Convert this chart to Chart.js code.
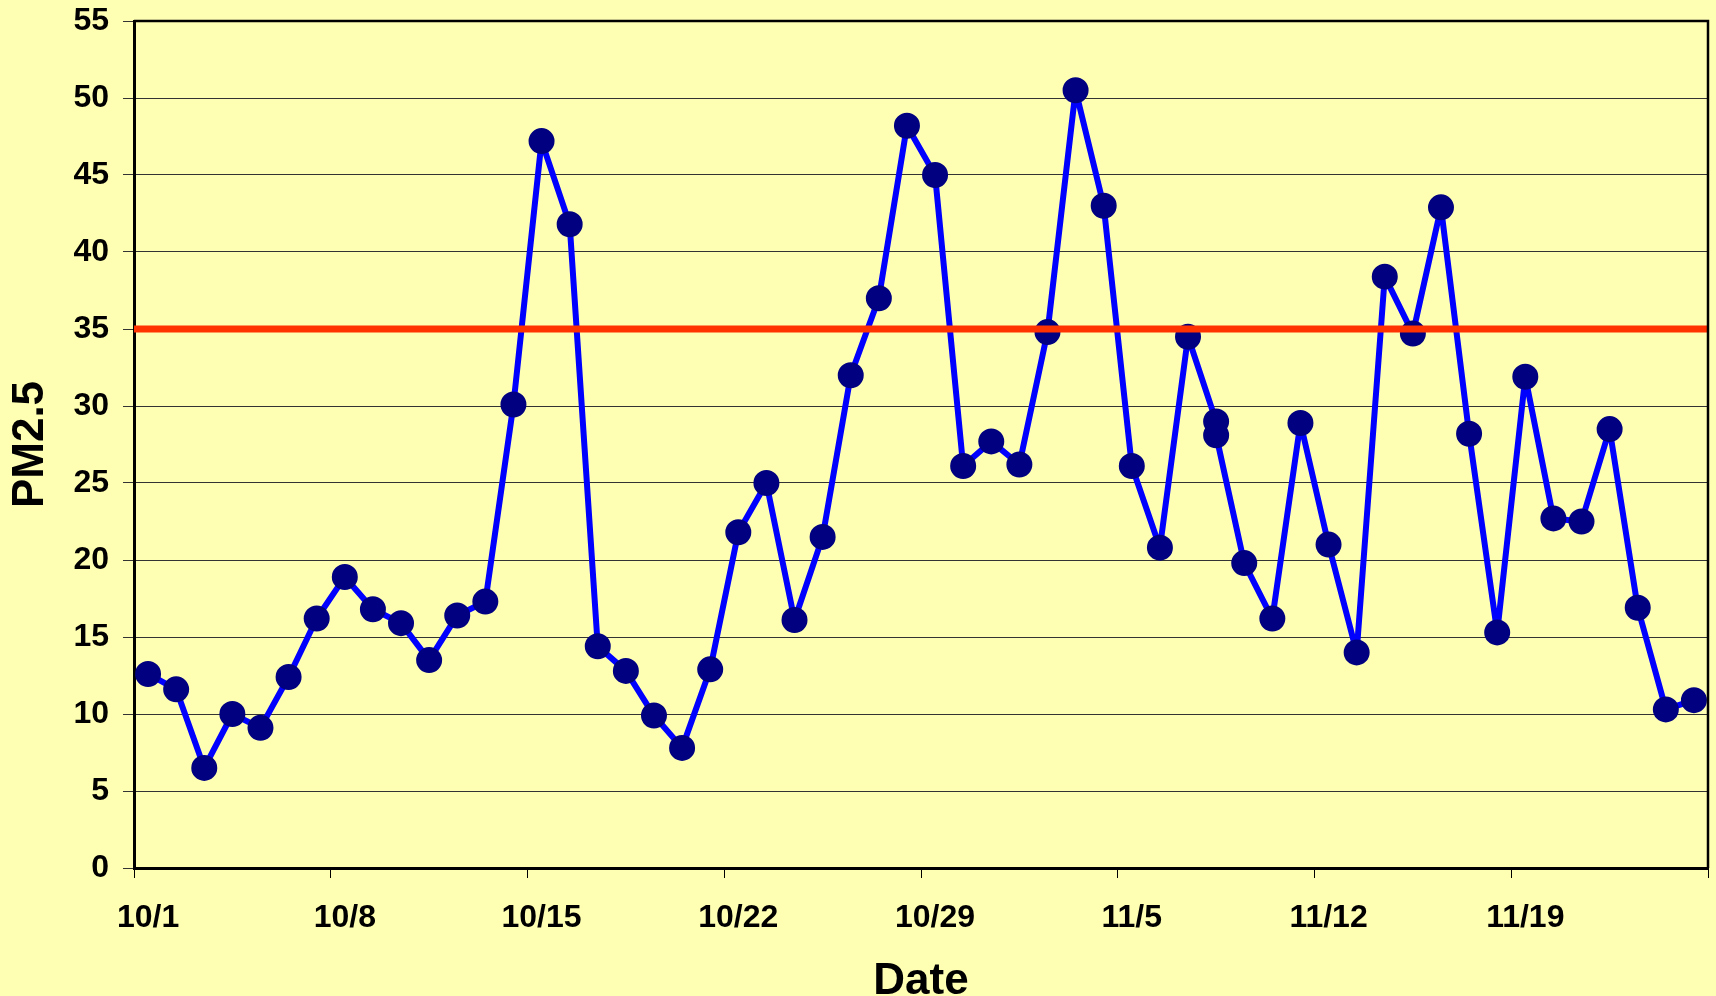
<!DOCTYPE html>
<html>
<head>
<meta charset="utf-8">
<script src="https://cdn.jsdelivr.net/npm/chart.js@4.4.1/dist/chart.umd.min.js"></script>
<style>
  html, body { margin: 0; padding: 0; background: #FFFFB4; overflow: hidden; }
  canvas { display: block; }
</style>
</head>
<body>
<canvas id="c" width="1716" height="996"></canvas>
<script>
// Category axis: one slot per day
const days = [
  '10/1','10/2','10/3','10/4','10/5','10/6','10/7','10/8','10/9','10/10',
  '10/11','10/12','10/13','10/14','10/15','10/16','10/17','10/18','10/19','10/20',
  '10/21','10/22','10/23','10/24','10/25','10/26','10/27','10/28','10/29','10/30',
  '10/31','11/1','11/2','11/3','11/4','11/5','11/6','11/7','11/8','11/9',
  '11/10','11/11','11/12','11/13','11/14','11/15','11/16','11/17','11/18','11/19',
  '11/20','11/21','11/22','11/23','11/24','11/25'
];

// Sample dates (11/8 has two samples)
const sampleDates = [
  '10/1','10/2','10/3','10/4','10/5','10/6','10/7','10/8','10/9','10/10',
  '10/11','10/12','10/13','10/14','10/15','10/16','10/17','10/18','10/19','10/20',
  '10/21','10/22','10/23','10/24','10/25','10/26','10/27','10/28','10/29','10/30',
  '10/31','11/1','11/2','11/3','11/4','11/5','11/6','11/7','11/8','11/8',
  '11/9','11/10','11/11','11/12','11/13','11/14','11/15','11/16','11/17','11/18',
  '11/19','11/20','11/21','11/22','11/23','11/24','11/25'
];

const pm25 = [
  12.6, 11.6, 6.5, 10.0, 9.1, 12.4, 16.2, 18.9, 16.8, 15.9,
  13.5, 16.4, 17.3, 30.1, 47.2, 41.8, 14.4, 12.8, 9.9, 7.8,
  12.9, 21.8, 25.0, 16.1, 21.5, 32.0, 37.0, 48.2, 45.0, 26.1,
  27.7, 26.2, 34.8, 50.5, 43.0, 26.1, 20.8, 34.5, 29.0, 28.1,
  19.8, 16.2, 28.9, 21.0, 14.0, 38.4, 34.7, 42.9, 28.2, 15.3,
  31.9, 22.7, 22.5, 28.5, 16.9, 10.3, 10.9
];

const LIMIT = 35;          // standard line
const LIMIT_SPAN = [0, 1]; // spans full width on hidden axis
const TICK_EVERY = 7;      // label / tick every week
const Y_MIN = 0, Y_MAX = 55, Y_STEP = 5;

const FONT = '"Liberation Sans", Arial, sans-serif';

const seriesData = sampleDates.map((d, i) => ({ x: d, y: pm25[i] }));
const limitData = LIMIT_SPAN.map(v => ({ x: v, y: LIMIT }));

const frame = {
  id: 'frame',
  afterDatasetsDraw(chart) {
    const { ctx, chartArea: a } = chart;
    ctx.save();
    ctx.strokeStyle = '#000';
    ctx.lineWidth = 2.5;
    ctx.beginPath();
    ctx.moveTo(a.left, a.top);
    ctx.lineTo(a.right, a.top);
    ctx.lineTo(a.right, a.bottom);
    ctx.stroke();
    ctx.restore();
  }
};

const noPad = s => { s.paddingLeft = 0; s.paddingRight = 0; s.paddingTop = 0; s.paddingBottom = 0; };

new Chart(document.getElementById('c'), {
  type: 'line',
  data: {
    datasets: [
      {
        label: 'Standard',
        data: limitData,
        xAxisID: 'x2',
        borderColor: '#FF3300',
        borderWidth: 7,
        pointRadius: 0,
        order: 0
      },
      {
        label: 'PM2.5',
        data: seriesData,
        xAxisID: 'x',
        borderColor: '#0000FF',
        borderWidth: 6,
        borderJoinStyle: 'round',
        pointRadius: 12,
        pointBorderWidth: 2,
        pointBackgroundColor: '#000080',
        pointBorderColor: '#000080',
        tension: 0,
        order: 1
      }
    ]
  },
  options: {
    responsive: false,
    animation: false,
    devicePixelRatio: 1,
    layout: { autoPadding: false, padding: { top: 21, right: 8, left: 0, bottom: 0 } },
    plugins: { legend: { display: false }, tooltip: { enabled: false } },
    scales: {
      x: {
        type: 'category',
        labels: days,
        offset: true,
        afterFit(s) { s.height = 128; noPad(s); },
        grid: {
          offset: true,
          drawOnChartArea: false,
          drawTicks: true,
          tickLength: 10,
          lineWidth: 1,
          color: ctx => (ctx.type !== 'tick' || ctx.index % TICK_EVERY === 0) ? '#000' : 'rgba(0,0,0,0)'
        },
        border: { color: '#000', width: 3 },
        ticks: {
          autoSkip: false,
          maxRotation: 0,
          minRotation: 0,
          padding: 21,
          color: '#000',
          font: { family: FONT, size: 32, weight: 'bold' },
          callback: (v, i) => (i % TICK_EVERY === 0 ? days[i] : '')
        },
        title: {
          display: true,
          text: 'Date',
          color: '#000',
          padding: { top: 0, bottom: -5 },
          font: { family: FONT, size: 44, weight: 'bold', lineHeight: 0.88 }
        }
      },
      x2: {
        type: 'linear',
        display: false,
        min: 0,
        max: 1,
        ticks: { display: false },
        afterFit(s) { s.height = 0; noPad(s); }
      },
      y: {
        min: Y_MIN,
        max: Y_MAX,
        afterFit(s) { s.width = 134; noPad(s); },
        grid: {
          color: '#333',
          lineWidth: 1,
          tickLength: 11,
          drawTicks: true
        },
        border: { color: '#000', width: 3 },
        ticks: {
          stepSize: Y_STEP,
          padding: 14,
          color: '#000',
          font: { family: FONT, size: 32, weight: 'bold' }
        },
        title: {
          display: true,
          text: 'PM2.5',
          color: '#000',
          padding: { top: 11, bottom: 0 },
          font: { family: FONT, size: 44, weight: 'bold', lineHeight: 0.88 }
        }
      }
    }
  },
  plugins: [frame]
});
</script>
</body>
</html>
